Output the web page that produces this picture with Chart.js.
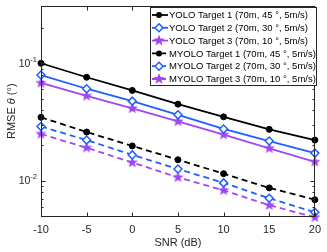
<!DOCTYPE html>
<html>
<head>
<meta charset="utf-8">
<script src="https://cdn.jsdelivr.net/npm/chart.js@4.4.1/dist/chart.umd.min.js"></script>
<style>
  html, body { margin: 0; padding: 0; background: #fff; }
  #wrap { width: 327px; height: 252px; }
</style>
</head>
<body>
<div id="wrap"><canvas id="rmseChart"></canvas></div>
<script>
// values
const snr = [-10, -5, 0, 5, 10, 15, 20];
const yolo1 = [0.100, 0.076, 0.0587, 0.0449, 0.0350, 0.0274, 0.0222];
const yolo2 = [0.0794, 0.0607, 0.0476, 0.0364, 0.0276, 0.0218, 0.0172];
const yolo3 = [0.0680, 0.0527, 0.0413, 0.0320, 0.0247, 0.0189, 0.0145];
const myolo1 = [0.0347, 0.0260, 0.0198, 0.0151, 0.0115, 0.0087, 0.0069];
const myolo2 = [0.0290, 0.0222, 0.0166, 0.0126, 0.0096, 0.0071, 0.0054];
const myolo3 = [0.0250, 0.0191, 0.0143, 0.0107, 0.0083, 0.0062, 0.0049];
const seriesNames = [
    'YOLO Target 1 (70m, 45 °, 5m/s)',
    'YOLO Target 2 (70m, 30 °, 5m/s)',
    'YOLO Target 3 (70m, 10 °, 5m/s)',
    'MYOLO Target 1 (70m, 45 °, 5m/s)',
    'MYOLO Target 2 (70m, 30 °, 5m/s)',
    'MYOLO Target 3 (70m, 10 °, 5m/s)'
];
const xTicks = [-10, -5, 0, 5, 10, 15, 20];
const yMajor = [0.01, 0.1];
const yMajorLabels = [['10', '-2'], ['10', '-1']];
const yMinor = [0.005, 0.006, 0.007, 0.008, 0.009, 0.02, 0.03, 0.04, 0.05, 0.06, 0.07, 0.08, 0.09, 0.2];

const BLACK = '#000000';
const BLUE = '#1f5fff';
const PURPLE = '#a246f5';
const AXIS = '#262626';
const FONT = "'Liberation Sans', Arial, sans-serif";

// filled five point star used as marker
function makeStar(color) {
    const c = document.createElement('canvas');
    c.width = 13; c.height = 13;
    const g = c.getContext('2d');
    drawStar(g, 6.5, 6.5, 6, color);
    return c;
}
function drawStar(g, cx, cy, r, color) {
    g.beginPath();
    for (let i = 0; i < 10; i++) {
        const rad = i % 2 === 0 ? r : r * 0.42;
        const a = -Math.PI / 2 + i * Math.PI / 5;
        const px = cx + rad * Math.cos(a), py = cy + rad * Math.sin(a);
        if (i === 0) g.moveTo(px, py); else g.lineTo(px, py);
    }
    g.closePath();
    g.fillStyle = color;
    g.fill();
}
const starImg = makeStar(PURPLE);

function pts(arr) {
    return snr.map((x, i) => ({ x: x, y: arr[i] }));
}

function makeSet(i, arr, color, marker, dashed) {
    const set = {
        label: seriesNames[i],
        data: pts(arr),
        borderColor: color,
        backgroundColor: color,
        borderWidth: 1.8,
        borderDash: dashed ? [6, 4] : [],
        tension: 0,
        clip: false,
        pointBorderColor: color,
        pointBackgroundColor: color,
        pointBorderWidth: 1,
        pointRadius: 3
    };
    if (marker === 'diamond') {
        set.pointStyle = 'rectRot';
        set.pointRadius = 4;
        set.pointBorderWidth = 1.5;
        set.pointBackgroundColor = '#ffffff';
    } else if (marker === 'star') {
        set.pointStyle = starImg;
    } else {
        set.pointStyle = 'circle';
        set.pointRadius = 3;
    }
    set.marker = marker;
    set.dashed = dashed;
    return set;
}

function drawMarker(ctx, marker, color, x, y) {
    ctx.save();
    ctx.setLineDash([]);
    if (marker === 'circle') {
        ctx.beginPath();
        ctx.arc(x, y, 3, 0, Math.PI * 2);
        ctx.fillStyle = color;
        ctx.fill();
    } else if (marker === 'diamond') {
        ctx.beginPath();
        ctx.moveTo(x, y - 4); ctx.lineTo(x + 4, y); ctx.lineTo(x, y + 4); ctx.lineTo(x - 4, y);
        ctx.closePath();
        ctx.fillStyle = '#fff';
        ctx.fill();
        ctx.lineWidth = 1.5;
        ctx.strokeStyle = color;
        ctx.stroke();
    } else {
        drawStar(ctx, x, y, 6, color);
    }
    ctx.restore();
}

// box, inward ticks, y labels, y title and legend, MATLAB style
const decorPlugin = {
    id: 'decor',
    afterDraw(chart) {
        const ctx = chart.ctx;
        const a = chart.chartArea;
        const xs = chart.scales.x, ys = chart.scales.y;
        ctx.save();
        ctx.strokeStyle = AXIS;
        ctx.lineWidth = 1;
        const L = Math.round(a.left) + 0.5, R = Math.round(a.right) - 0.5;
        const T = Math.round(a.top) + 0.5, B = Math.round(a.bottom) - 0.5;
        ctx.strokeRect(L, T, R - L, B - T);

        ctx.beginPath();
        xTicks.forEach(v => {
            const px = Math.round(xs.getPixelForValue(v)) + 0.5;
            ctx.moveTo(px, B); ctx.lineTo(px, B - 4);
            ctx.moveTo(px, T); ctx.lineTo(px, T + 4);
        });
        yMajor.forEach(v => {
            const py = Math.round(ys.getPixelForValue(v)) + 0.5;
            ctx.moveTo(L, py); ctx.lineTo(L + 4, py);
            ctx.moveTo(R, py); ctx.lineTo(R - 4, py);
        });
        yMinor.forEach(v => {
            const py = Math.round(ys.getPixelForValue(v)) + 0.5;
            ctx.moveTo(L, py); ctx.lineTo(L + 2, py);
            ctx.moveTo(R, py); ctx.lineTo(R - 2, py);
        });
        ctx.stroke();

        // y tick labels 10^-n
        ctx.fillStyle = AXIS;
        ctx.textBaseline = 'middle';
        yMajor.forEach((v, i) => {
            const py = ys.getPixelForValue(v);
            ctx.font = '7.5px ' + FONT;
            const sw = ctx.measureText(yMajorLabels[i][1]).width;
            const supX = a.left - 4 - sw;
            ctx.textAlign = 'left';
            ctx.fillText(yMajorLabels[i][1], supX, py - 3.5);
            ctx.font = '10.5px ' + FONT;
            ctx.textAlign = 'right';
            ctx.fillText(yMajorLabels[i][0], supX, py + 0.5);
        });

        // y axis title with italic theta
        const parts = [['RMSE ', ''], ['θ', 'italic '], [' (°)', '']];
        ctx.save();
        ctx.translate(12, (a.top + a.bottom) / 2);
        ctx.rotate(-Math.PI / 2);
        let total = 0;
        parts.forEach(p => { ctx.font = p[1] + '11px ' + FONT; total += ctx.measureText(p[0]).width; });
        let cx = -total / 2;
        ctx.textAlign = 'left';
        parts.forEach(p => {
            ctx.font = p[1] + '11px ' + FONT;
            ctx.fillText(p[0], cx, 0);
            cx += ctx.measureText(p[0]).width;
        });
        ctx.restore();

        // legend
        const lx = 150, ly = 7, lw = 166, lh = 78;
        ctx.fillStyle = '#fff';
        ctx.fillRect(lx, ly, lw, lh);
        ctx.strokeStyle = AXIS;
        ctx.strokeRect(lx + 0.5, ly + 0.5, lw, lh);
        chart.data.datasets.forEach((ds, i) => {
            const ry = ly + 8 + i * 12.8;
            ctx.save();
            ctx.strokeStyle = ds.borderColor;
            ctx.lineWidth = 1.8;
            ctx.setLineDash(ds.dashed ? [5, 4] : []);
            ctx.beginPath();
            ctx.moveTo(lx + 2, ry); ctx.lineTo(lx + 18, ry);
            ctx.stroke();
            ctx.restore();
            drawMarker(ctx, ds.marker, ds.borderColor, lx + 9, ry);
            ctx.fillStyle = '#000';
            ctx.font = '9.5px ' + FONT;
            ctx.textAlign = 'left';
            ctx.textBaseline = 'middle';
            ctx.fillText(ds.label, lx + 19, ry + 0.5);
        });
        ctx.restore();
    }
};

const ctx = document.getElementById('rmseChart').getContext('2d');
const rmseChart = new Chart(ctx, {
    type: 'line',
    data: {
        datasets: [
            makeSet(0, yolo1, BLACK, 'circle', false),
            makeSet(1, yolo2, BLUE, 'diamond', false),
            makeSet(2, yolo3, PURPLE, 'star', false),
            makeSet(3, myolo1, BLACK, 'circle', true),
            makeSet(4, myolo2, BLUE, 'diamond', true),
            makeSet(5, myolo3, PURPLE, 'star', true)
        ]
    },
    options: {
        responsive: true,
        maintainAspectRatio: false,
        animation: false,
        devicePixelRatio: 1,
        layout: { padding: { top: 1, right: 7, left: 0, bottom: 0 } },
        plugins: {
            legend: { display: false },
            tooltip: { enabled: false }
        },
        scales: {
            x: {
                type: 'linear',
                min: -10,
                max: 20,
                grid: { display: false, drawTicks: false },
                border: { display: false },
                ticks: { stepSize: 5, color: AXIS, padding: 6, font: { family: FONT, size: 11 } },
                title: {
                    display: true,
                    text: 'SNR (dB)',
                    color: AXIS,
                    font: { family: FONT, size: 11 },
                    padding: { top: 0, bottom: 2 }
                },
                afterFit: s => { s.height = 35; }
            },
            y: {
                type: 'logarithmic',
                min: 0.00492,
                max: 0.31,
                grid: { display: false, drawTicks: false },
                border: { display: false },
                ticks: { display: false },
                afterFit: s => { s.width = 41; }
            }
        }
    },
    plugins: [decorPlugin]
});
</script>
</body>
</html>
